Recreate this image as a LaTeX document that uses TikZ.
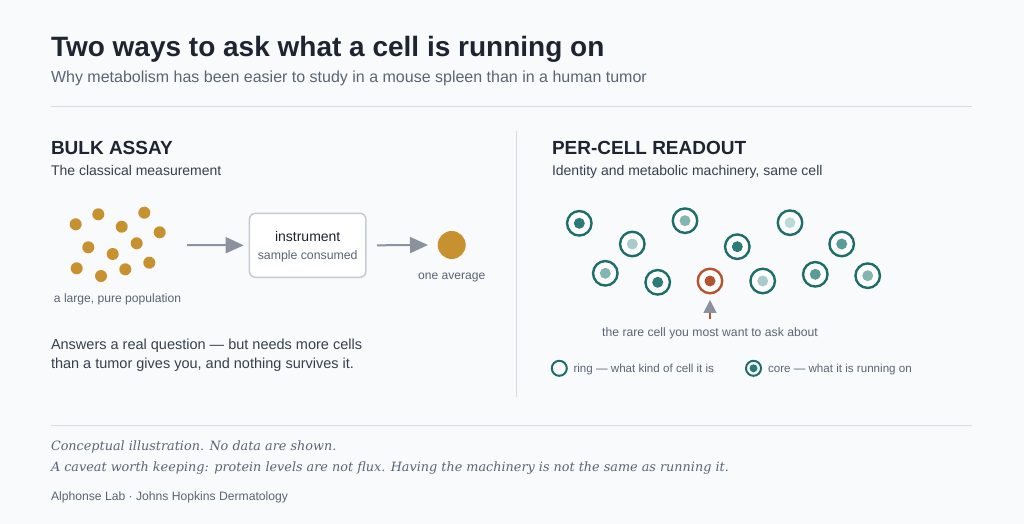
\documentclass[tikz,border=0pt]{standalone}
\usepackage{fontspec}
\setmainfont{Liberation Sans}
\newfontfamily\capserif{DejaVu Serif}
\usetikzlibrary{arrows.meta}
\definecolor{bgc}{HTML}{F9FAFC}
\definecolor{titlec}{HTML}{1E2530}
\definecolor{subc}{HTML}{5A6573}
\definecolor{bodyc}{HTML}{36404C}
\definecolor{rulec}{HTML}{D7DBE0}
\definecolor{goldc}{HTML}{C8912F}
\definecolor{arrowc}{HTML}{8A939D}
\definecolor{boxc}{HTML}{C5CAD0}
\definecolor{ringc}{HTML}{1D6E69}
\definecolor{coreA}{HTML}{2B7C78}
\definecolor{coreB}{HTML}{5B9C98}
\definecolor{coreC}{HTML}{85B5B2}
\definecolor{coreD}{HTML}{AACBC9}
\definecolor{coreE}{HTML}{BDD9D7}
\definecolor{redc}{HTML}{B5532E}
\tikzset{
  txt/.style={anchor=base west, inner sep=0pt, outer sep=0pt},
  ctxt/.style={anchor=base, inner sep=0pt, outer sep=0pt},
  dot/.style={circle, fill=goldc, minimum size=12pt, inner sep=0pt},
  ring/.style={circle, draw=ringc, line width=2.4pt, fill=white, minimum size=24.5pt, inner sep=0pt},
  core/.style={circle, fill=#1, minimum size=11pt, inner sep=0pt},
  flow/.style={draw=arrowc, line width=2pt, -{Triangle[length=18pt,width=16pt]}},
  rulestyle/.style={draw=rulec, line width=1pt},
}
\begin{document}
\begin{tikzpicture}[x=1pt,y=-1pt]
\useasboundingbox (0,0) rectangle (1024,524);
\fill[bgc] (0,0) rectangle (1024,524);

% header
\node[txt, text=titlec, font=\fontsize{28}{32}\selectfont\bfseries] (title) at (51,56.5) {Two ways to ask what a cell is running on};
\node[txt, text=subc, font=\fontsize{16}{20}\selectfont] (subtitle) at (51,83) {Why metabolism has been easier to study in a mouse spleen than in a human tumor};
\coordinate (r1a) at (51,107); \coordinate (r1b) at (972,107);
\draw[rulestyle] (r1a) -- (r1b);

% divider
\coordinate (dva) at (516,131); \coordinate (dvb) at (516,397);
\draw[rulestyle] (dva) -- (dvb);

% left panel
\node[txt, text=titlec, font=\fontsize{19}{23}\selectfont\bfseries] (bulkh) at (51,154) {BULK ASSAY};
\node[txt, text=bodyc, font=\fontsize{14}{18}\selectfont] (bulks) at (51,175) {The classical measurement};

\node[dot] (d1) at (75.7,224.3) {};
\node[dot] (d2) at (98.3,214.3) {};
\node[dot] (d3) at (121.7,226.7) {};
\node[dot] (d4) at (144.3,212.7) {};
\node[dot] (d5) at (159.7,232.3) {};
\node[dot] (d6) at (88.3,247.3) {};
\node[dot] (d7) at (112.7,254) {};
\node[dot] (d8) at (136.7,243.3) {};
\node[dot] (d9) at (76.7,268.3) {};
\node[dot] (d10) at (101,276) {};
\node[dot] (d11) at (125.3,269.3) {};
\node[dot] (d12) at (149.3,262.7) {};
\node[ctxt, text=subc, font=\fontsize{12.1}{15}\selectfont] (poplab) at (117.5,302) {a large, pure population};

\coordinate (popout) at (187,245);
\node[draw=boxc, line width=1.5pt, fill=white, rounded corners=6pt, minimum width=116.5pt, minimum height=64pt, inner sep=0pt] (inst) at (307.7,245.3) {};
\node[ctxt, text=titlec, font=\fontsize{14}{18}\selectfont] (instl) at (307.7,241) {instrument};
\node[ctxt, text=subc, font=\fontsize{12.3}{15}\selectfont] (instc) at (307.7,259.5) {sample consumed};
\node[circle, fill=goldc, minimum size=28pt, inner sep=0pt] (avg) at (451.7,245) {};
\node[ctxt, text=subc, font=\fontsize{12.1}{15}\selectfont] (avgl) at (451.7,279) {one average};

\draw[flow] (popout) -- ([xshift=-5pt]inst.west);
\draw[flow] ([xshift=10.5pt]inst.east) -- ([xshift=-9.5pt]avg.west);

\node[txt, text=bodyc, font=\fontsize{14.5}{19}\selectfont] (ans1) at (51,349) {Answers a real question — but needs more cells};
\node[txt, text=bodyc, font=\fontsize{14.5}{19}\selectfont] (ans2) at (51,368.5) {than a tumor gives you, and nothing survives it.};

% right panel
\node[txt, text=titlec, font=\fontsize{19}{23}\selectfont\bfseries] (perh) at (552,154) {PER-CELL READOUT};
\node[txt, text=bodyc, font=\fontsize{14}{18}\selectfont] (pers) at (552,175) {Identity and metabolic machinery, same cell};

\foreach \n/\x/\y/\c in {1/579.3/223.3/coreA, 2/632.3/244/coreD, 3/685/220.7/coreC, 4/737.3/246.7/coreA, 5/790/222.7/coreE, 6/841.7/244/coreB, 7/605.3/273.3/coreC, 8/657.7/282.3/coreA, 10/762.7/281/coreD, 11/815.3/274.3/coreB, 12/867.7/275.7/coreC}{
  \node[ring] (c\n) at (\x,\y) {};
  \node[core=\c] (k\n) at (c\n.center) {};
}
\node[ring, draw=redc] (c9) at (710,281) {};
\node[core=redc] (k9) at (c9.center) {};

\coordinate (stem) at (710,319);
\draw[draw=redc, line width=1.5pt, -{Triangle[length=13pt,width=13pt,color=arrowc]}] (stem) -- ([yshift=-5.5pt]c9.south);
\node[ctxt, text=subc, font=\fontsize{12.2}{15}\selectfont] (rarel) at (710,336.5) {the rare cell you most want to ask about};

% legend
\node[circle, draw=ringc, line width=2pt, fill=white, minimum size=15pt, inner sep=0pt] (lg1) at (559.3,368.3) {};
\node[txt, text=subc, font=\fontsize{11.6}{15}\selectfont] (lg1t) at (573.5,372.3) {ring — what kind of cell it is};
\node[circle, draw=ringc, line width=2pt, fill=white, minimum size=15pt, inner sep=0pt] (lg2) at (753.5,368.3) {};
\node[circle, fill=coreA, minimum size=8pt, inner sep=0pt] (lg2c) at (lg2.center) {};
\node[txt, text=subc, font=\fontsize{11.6}{15}\selectfont] (lg2t) at (768,372.3) {core — what it is running on};

% footer
\coordinate (r2a) at (51,425); \coordinate (r2b) at (972,425);
\draw[rulestyle] (r2a) -- (r2b);
\node[txt, text=subc, font=\fontsize{12.8}{16}\selectfont\capserif\itshape] (cap1) at (51,450.5) {Conceptual illustration. No data are shown.};
\node[txt, text=subc, font=\fontsize{12.8}{16}\selectfont\capserif\itshape] (cap2) at (51,471.5) {A caveat worth keeping: protein levels are not flux. Having the machinery is not the same as running it.};
\node[txt, text=subc, font=\fontsize{12.15}{15}\selectfont] (credit) at (51,500.5) {Alphonse Lab · Johns Hopkins Dermatology};
\end{tikzpicture}
\end{document}
